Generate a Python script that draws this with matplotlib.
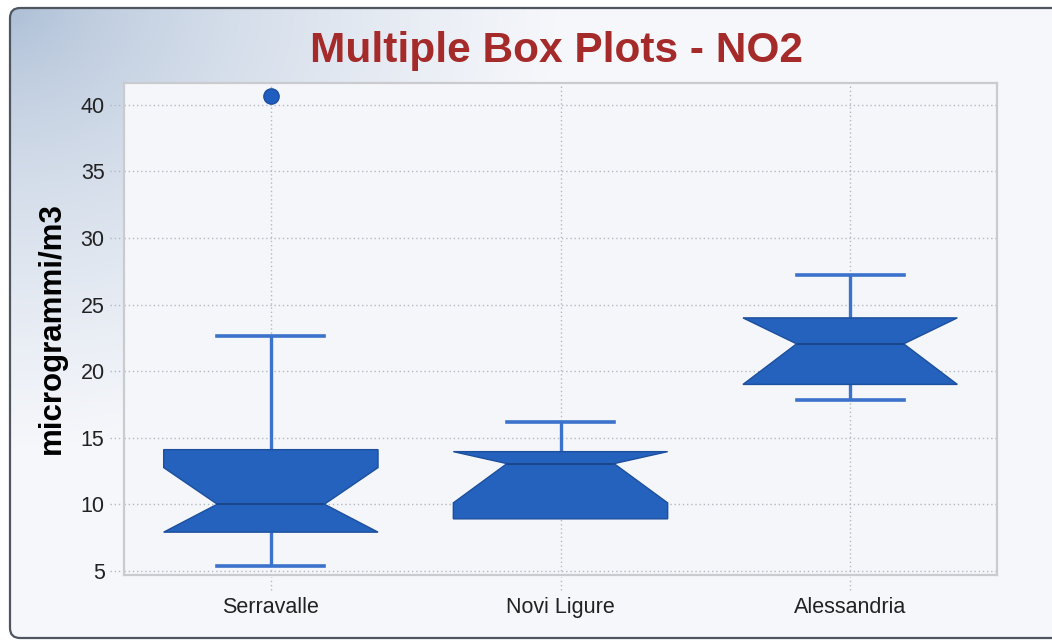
import numpy as np
import matplotlib
matplotlib.use("Agg")
import matplotlib.pyplot as plt
from matplotlib.patches import FancyBboxPatch
import matplotlib.transforms as mtransforms

# ---------------- data ----------------
categories = ["Serravalle", "Novi Ligure", "Alessandria"]
whislo = [5.35, 8.9, 17.85]
q1 = [7.9, 8.9, 19.0]
med = [10.0, 13.05, 22.05]
q3 = [14.1, 13.95, 24.0]
whishi = [22.65, 16.2, 27.2]
cilo = [7.9, 10.1, 19.0]
cihi = [12.75, 13.95, 24.0]
fliers = [[40.7], [], []]
yticks = [5, 10, 15, 20, 25, 30, 35, 40]

title = "Multiple Box Plots - NO2"
ylabel = "microgrammi/m3"

W, H = 1052, 641
fig = plt.figure(figsize=(W / 100, H / 100), dpi=100)
fig.patch.set_facecolor("white")

# ------------- background panel with gradient -------------
bg = fig.add_axes([0, 0, 1, 1])
bg.set_xlim(0, W)
bg.set_ylim(H, 0)
bg.axis("off")
yy, xx = np.mgrid[0:H, 0:W]
t = np.sqrt((xx / 560.0) ** 2 + (yy / 450.0) ** 2)
t = np.clip(t, 0, 1) ** 0.6
c0 = np.array([0.64, 0.72, 0.82])
c1 = np.array([0.965, 0.97, 0.985])
img = c0[None, None, :] * (1 - t[..., None]) + c1[None, None, :] * t[..., None]
frame = FancyBboxPatch((10, 8), 1070, 630, boxstyle="round,pad=0,rounding_size=10",
                       facecolor="none", edgecolor="#4f5660", linewidth=1.6, zorder=3)
bg.add_patch(frame)
im = bg.imshow(img, extent=(0, W, H, 0), zorder=1, interpolation="bilinear")
im.set_clip_path(frame)

# ------------- main axes -------------
left, right, top, bottom = 124, 997, 83, 575
ax = fig.add_axes([left / W, 1 - bottom / H, (right - left) / W, (bottom - top) / H])
ax.set_facecolor("#f5f6fa")

stats = []
for i, name in enumerate(categories):
    stats.append(dict(label=name, whislo=whislo[i], q1=q1[i], med=med[i], q3=q3[i],
                      whishi=whishi[i], cilo=cilo[i], cihi=cihi[i], fliers=fliers[i]))

box_color = "#2462be"
line_color = "#3a72cc"
res = ax.bxp(stats, positions=[1, 2, 3], widths=0.74, shownotches=True,
             patch_artist=True,
             boxprops=dict(facecolor=box_color, edgecolor="#1c4f9c", linewidth=1.0),
             whiskerprops=dict(color=line_color, linewidth=2.4, solid_capstyle="butt"),
             capprops=dict(color=line_color, linewidth=2.6),
             medianprops=dict(color="#1a468a", linewidth=1.4),
             flierprops=dict(marker="o", markersize=11, markerfacecolor="#1f5ec0",
                             markeredgecolor="#1a4e9e", markeredgewidth=1.0))
for b in res["boxes"]:
    b.set_zorder(4)
for m in res["medians"]:
    m.set_zorder(5)
# hide caps/whiskers of zero length
for i in range(len(categories)):
    if whislo[i] >= q1[i]:
        res["caps"][2 * i].set_visible(False)
        res["whiskers"][2 * i].set_visible(False)

ax.set_xlim(0.493, 3.507)
ax.set_ylim(4.68, 41.65)
ax.set_yticks(yticks)
ax.set_xticks([1, 2, 3])
ax.set_xticklabels(categories)

grid_kw = dict(color="#b4b8bf", linewidth=1.0, linestyle=(0, (1, 2)))
ax.grid(True, **grid_kw)
ax.set_axisbelow(True)
ax.tick_params(length=0, labelsize=15.5, labelcolor="#222222", pad=14)
ax.tick_params(axis="x", pad=16)
for lab in ax.get_xticklabels() + ax.get_yticklabels():
    lab.set_fontfamily("Liberation Sans")
for s in ax.spines.values():
    s.set_color("#c9cbcf")
    s.set_linewidth(1.6)

# dotted tick extensions outside the plot area
ty = mtransforms.blended_transform_factory(ax.transAxes, ax.transData)
for v in yticks:
    ax.plot([-14 / (right - left), -1.5 / (right - left)], [v, v], transform=ty,
            clip_on=False, **grid_kw)
tx = mtransforms.blended_transform_factory(ax.transData, ax.transAxes)
for p in [1, 2, 3]:
    ax.plot([p, p], [-15 / (bottom - top), -2 / (bottom - top)], transform=tx,
            clip_on=False, **grid_kw)

fig.text(557 / W, 1 - 62 / H, title, ha="center", va="baseline",
         fontsize=30.5, fontweight="bold", color="#a52a2a", family="Liberation Sans")
fig.text(52 / W, 1 - 328 / H, ylabel, ha="center", va="center", rotation=90,
         fontsize=22.5, fontweight="bold", color="black", family="Liberation Sans")

fig.savefig("out.png", dpi=100)
